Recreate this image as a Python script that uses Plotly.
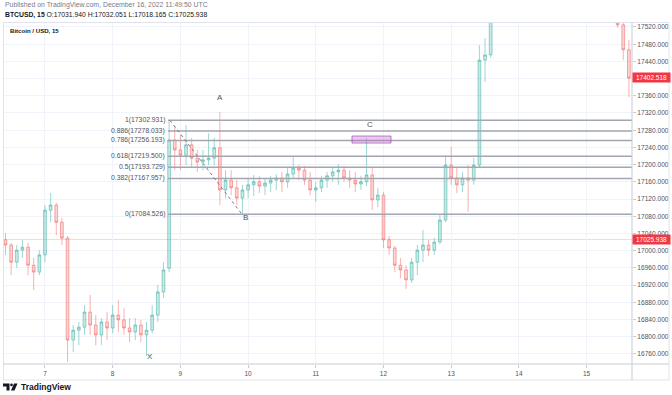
import plotly.graph_objects as go
import pandas as pd

# ---------------- data (2-hour candles) ----------------
opens = [17025, 17013, 16973, 17001, 17008, 16966, 16950, 16990, 17094, 17106,
         17066, 17029, 16792, 16815, 16822, 16857, 16827, 16804, 16834, 16820,
         16850, 16839, 16820, 16811, 16827, 16804, 16815, 16850, 16904, 16959,
         17257, 17234, 17222, 17246, 17215, 17206, 17211, 17215, 17239, 17141,
         17164, 17146, 17122, 17141, 17153, 17160, 17150, 17157, 17164, 17169,
         17160, 17178, 17192, 17187, 17164, 17141, 17146, 17164, 17174, 17183,
         17187, 17169, 17164, 17155, 17160, 17176, 17118, 17129, 17025, 17006,
         16966, 16955, 16932, 16973, 17001, 17013, 17001, 17020, 17071, 17199,
         17169, 17153, 17169, 17164, 17199, 17443, 17455]
highs = [17041, 17018, 17013, 17025, 17018, 16983, 17001, 17106, 17134, 17111,
         17076, 17034, 16827, 16834, 16873, 16897, 16850, 16843, 16857, 16873,
         16885, 16866, 16843, 16843, 16839, 16834, 16873, 16920, 16973, 17302.931,
         17290, 17269, 17292, 17262, 17234, 17234, 17273, 17262, 17322, 17187,
         17187, 17164, 17153, 17169, 17176, 17174, 17169, 17174, 17178, 17183,
         17192, 17218, 17199, 17197, 17183, 17160, 17174, 17183, 17192, 17201,
         17197, 17187, 17183, 17174, 17262, 17192, 17146, 17136, 17034, 17011,
         16983, 16966, 16983, 17013, 17048, 17025, 17029, 17083, 17222, 17241,
         17192, 17183, 17199, 17215, 17478, 17494, 17583]
lows = [16990, 16943, 16959, 16983, 16943, 16908, 16943, 16973, 17066, 17036,
        17013, 16741, 16764, 16780, 16804, 16804, 16780, 16780, 16792, 16808,
        16811, 16804, 16787, 16792, 16787, 16755, 16808, 16834, 16890, 16950,
        17187, 17187, 17199, 17192, 17183, 17187, 17199, 17199, 17106, 17122,
        17129, 17106, 17084.526, 17122, 17127, 17134, 17129, 17136, 17141, 17136,
        17146, 17169, 17164, 17153, 17129, 17113, 17136, 17146, 17160, 17153,
        17160, 17146, 17136, 17141, 17150, 17094, 17101, 17006, 16990, 16950,
        16936, 16911, 16925, 16943, 16973, 16987, 16990, 17015, 17066, 17153,
        17134, 17136, 17090, 17153, 17192, 17392, 17448]
closes = [17013, 16973, 17001, 17008, 16966, 16950, 16990, 17094, 17106, 17066,
          17029, 16792, 16815, 16822, 16857, 16827, 16804, 16834, 16820, 16850,
          16839, 16820, 16811, 16827, 16804, 16815, 16850, 16904, 16955, 17257,
          17234, 17222, 17246, 17215, 17206, 17211, 17215, 17239, 17141, 17164,
          17146, 17122, 17141, 17153, 17160, 17150, 17157, 17164, 17169, 17160,
          17178, 17192, 17187, 17164, 17141, 17146, 17164, 17174, 17183, 17187,
          17169, 17164, 17155, 17160, 17176, 17118, 17129, 17025, 17006, 16966,
          16955, 16932, 16973, 17001, 17013, 17001, 17020, 17071, 17199, 17169,
          17153, 17169, 17164, 17199, 17443, 17455, 17560]
start_time = "2022-12-06 10:00"

# candles visible again at the right edge
end_times = ["2022-12-15 11:00", "2022-12-15 13:00", "2022-12-15 15:00"]
end_opens = [17571, 17525, 17467]
end_highs = [17583, 17536, 17490]
end_lows = [17518, 17443, 17357]
end_closes = [17525, 17467, 17401]

# Fibonacci retracement
fib_ratios = ["1", "0.886", "0.786", "0.618", "0.5", "0.382", "0"]
fib_prices = [17302.931, 17278.033, 17256.193, 17219.500, 17193.729, 17167.957, 17084.526]
fib_start = "2022-12-08 19:36"

# XABC pattern points
pattern_names = ["X", "A", "B", "C"]
pattern_times = ["2022-12-08 13:13", "2022-12-09 14:02", "2022-12-09 21:50", "2022-12-11 18:30"]
pattern_prices = [16755, 17322, 17084.526, 17262]

# dashed trend line (fib high -> B)
trend_times = ["2022-12-08 20:19", "2022-12-09 21:50"]
trend_prices = [17302.931, 17084.526]

# purple box near C
box_times = ["2022-12-11 12:50", "2022-12-12 02:40"]
box_prices = [17250, 17266.5]

# price labels
label_prices = [17402.518, 17025.938]
last_price = 17025.938

day_ticks = [7, 8, 9, 10, 11, 12, 13, 14, 15]
y_ticks = [16760, 16800, 16840, 16880, 16920, 16960, 17000, 17040, 17080, 17120,
           17160, 17200, 17240, 17280, 17320, 17360, 17440, 17480, 17520]
hidden_grid = [17400]  # gridline whose label sits under the red price tag
x_range = ["2022-12-06 09:07", "2022-12-15 16:06"]
y_range = [16736.3, 17531.6]

header1 = "Published on TradingView.com, December 16, 2022 11:49:50 UTC"
header2 = "<b>BTCUSD, 15</b> O:17031.940 H:17032.051 L:17018.165 C:17025.938"
title_txt = "<b>Bitcoin / USD, 15</b>"

# ---------------- figure ----------------
times = list(pd.date_range(start_time, periods=len(opens), freq="2h")) + list(pd.to_datetime(end_times))

W, H = 672, 395
L_M, R_M, T_M, B_M = 3, 40, 22, 31
PW = W - L_M - R_M
PH = H - T_M - B_M


def px(x):
    return (x - L_M) / PW


def py(y):
    return (H - B_M - y) / PH


FONT = "Liberation Sans, Arial, sans-serif"

fig = go.Figure()
fig.add_trace(go.Candlestick(
    x=times,
    open=opens + end_opens, high=highs + end_highs,
    low=lows + end_lows, close=closes + end_closes,
    increasing=dict(line=dict(color="rgba(38,166,154,0.45)", width=1),
                    fillcolor="rgba(38,166,154,0.25)"),
    decreasing=dict(line=dict(color="rgba(239,83,80,0.45)", width=1),
                    fillcolor="rgba(239,83,80,0.25)"),
    whiskerwidth=0,
    showlegend=False, hoverinfo="skip",
))

shapes = []
for g in hidden_grid:
    shapes.append(dict(type="line", xref="paper", yref="y", x0=0, x1=1, y0=g, y1=g,
                       line=dict(color="#f0f3fa", width=1), layer="below"))
# faint last-price line
shapes.append(dict(type="line", xref="paper", yref="y", x0=0, x1=1, y0=last_price, y1=last_price,
                   line=dict(color="rgba(242,54,69,0.22)", width=1), layer="below"))
# fib lines
for p in fib_prices:
    shapes.append(dict(type="line", xref="x", yref="y", x0=fib_start, x1="2022-12-16 12:00",
                       y0=p, y1=p, line=dict(color="#a3a6ae", width=1.5)))
# dashed trend line
shapes.append(dict(type="line", xref="x", yref="y", x0=trend_times[0], x1=trend_times[1],
                   y0=trend_prices[0], y1=trend_prices[1],
                   line=dict(color="#787b86", width=1, dash="dot")))
# purple box
shapes.append(dict(type="rect", xref="x", yref="y", x0=box_times[0], x1=box_times[1],
                   y0=box_prices[0], y1=box_prices[1],
                   fillcolor="rgba(186,104,200,0.35)", line=dict(color="rgba(156,39,176,0.55)", width=1)))
# frame
fc = "#e0e3eb"
sc = "#c8cbd3"
shapes += [
    dict(type="line", xref="paper", yref="paper", x0=px(3), x1=px(669), y0=py(22.5), y1=py(22.5), line=dict(color=fc, width=1)),
    dict(type="line", xref="paper", yref="paper", x0=px(3.5), x1=px(3.5), y0=py(22.5), y1=py(380), line=dict(color=fc, width=1)),
    dict(type="line", xref="paper", yref="paper", x0=px(669), x1=px(669), y0=py(22.5), y1=py(380), line=dict(color=fc, width=1)),
    dict(type="line", xref="paper", yref="paper", x0=px(3), x1=px(669), y0=py(380), y1=py(380), line=dict(color=fc, width=1)),
    dict(type="line", xref="paper", yref="paper", x0=px(3), x1=px(669), y0=py(364), y1=py(364), line=dict(color=sc, width=1)),
    dict(type="line", xref="paper", yref="paper", x0=px(632), x1=px(632), y0=py(22.5), y1=py(380), line=dict(color=sc, width=1)),
]
# TradingView logo
logo_col = "#131722"
shapes += [
    dict(type="path", xref="paper", yref="paper",
         path=f"M {px(3)},{py(383.5)} L {px(9.5)},{py(383.5)} L {px(9.5)},{py(390.5)} L {px(6.5)},{py(390.5)} L {px(6.5)},{py(386.5)} L {px(3)},{py(386.5)} Z",
         fillcolor=logo_col, line=dict(width=0)),
    dict(type="circle", xref="paper", yref="paper", x0=px(10.2), x1=px(12.8), y0=py(383.6), y1=py(386.2),
         fillcolor=logo_col, line=dict(width=0)),
    dict(type="path", xref="paper", yref="paper",
         path=f"M {px(14)},{py(383.5)} L {px(17.5)},{py(383.5)} L {px(14.5)},{py(390.5)} L {px(11)},{py(390.5)} Z",
         fillcolor=logo_col, line=dict(width=0)),
]

ann = []
ann.append(dict(text=header1, xref="paper", yref="paper", x=px(3), y=py(5.5), xanchor="left", yanchor="middle",
                showarrow=False, font=dict(family=FONT, size=6.9, color="#787b86")))
ann.append(dict(text=header2, xref="paper", yref="paper", x=px(3), y=py(15), xanchor="left", yanchor="middle",
                showarrow=False, font=dict(family=FONT, size=6.8, color="#131722")))
ann.append(dict(text=title_txt, xref="paper", yref="paper", x=px(8), y=py(31), xanchor="left", yanchor="middle",
                showarrow=False, font=dict(family=FONT, size=6.1, color="#131722")))
ann.append(dict(text="TradingView", xref="paper", yref="paper", x=px(18.5), y=py(387), xanchor="left", yanchor="middle",
                showarrow=False, font=dict(family=FONT, size=8.5, color="#131722", weight=600)))
for r, p in zip(fib_ratios, fib_prices):
    ann.append(dict(text=f"{r}({p:.3f})", x=fib_start, y=p, xref="x", yref="y", xanchor="right", yanchor="middle",
                    xshift=-1, showarrow=False, font=dict(family=FONT, size=6.8, color="#50535e")))
pat_shift = {"X": (0, -1), "A": (0, 15), "B": (4, -3), "C": (2, 13)}
for n, t, p in zip(pattern_names, pattern_times, pattern_prices):
    dx, dy = pat_shift[n]
    ann.append(dict(text=n, x=t, y=p, xref="x", yref="y", xanchor="center", yanchor="middle",
                    xshift=dx, yshift=dy, showarrow=False, font=dict(family=FONT, size=8, color="#50535e")))
for p in label_prices:
    ann.append(dict(text=f"{p:.3f}", x=1, y=p, xref="paper", yref="y", xanchor="left", yanchor="middle",
                    showarrow=False, bgcolor="#f23645", width=36, height=8, borderpad=0.5,
                    font=dict(family=FONT, size=6.5, color="#ffffff")))

fig.update_layout(
    width=W, height=H,
    margin=dict(l=L_M, r=R_M, t=T_M, b=B_M, pad=0),
    paper_bgcolor="#ffffff", plot_bgcolor="#ffffff",
    shapes=shapes, annotations=ann,
    xaxis=dict(type="date", range=x_range, rangeslider=dict(visible=False),
               tickvals=[f"2022-12-{d:02d}" for d in day_ticks], ticktext=[str(d) for d in day_ticks],
               showgrid=True, gridcolor="#f0f3fa", gridwidth=1, zeroline=False,
               showline=False, ticks="outside", ticklen=3, tickcolor="#c8cbd3",
               tickfont=dict(family=FONT, size=6.5, color="#50535e"), automargin=False, fixedrange=True),
    yaxis=dict(side="right", range=y_range, tickvals=y_ticks, tickformat=".3f",
               showgrid=True, gridcolor="#f0f3fa", gridwidth=1, zeroline=False,
               showline=False, ticks="outside", ticklen=3, tickcolor="#c8cbd3",
               tickfont=dict(family=FONT, size=6.6, color="#50535e"), automargin=False, fixedrange=True),
    showlegend=False,
)

fig.write_html("out.html", config={"displayModeBar": False},
               post_script="document.body.style.margin='0px';document.body.style.padding='0px';")
